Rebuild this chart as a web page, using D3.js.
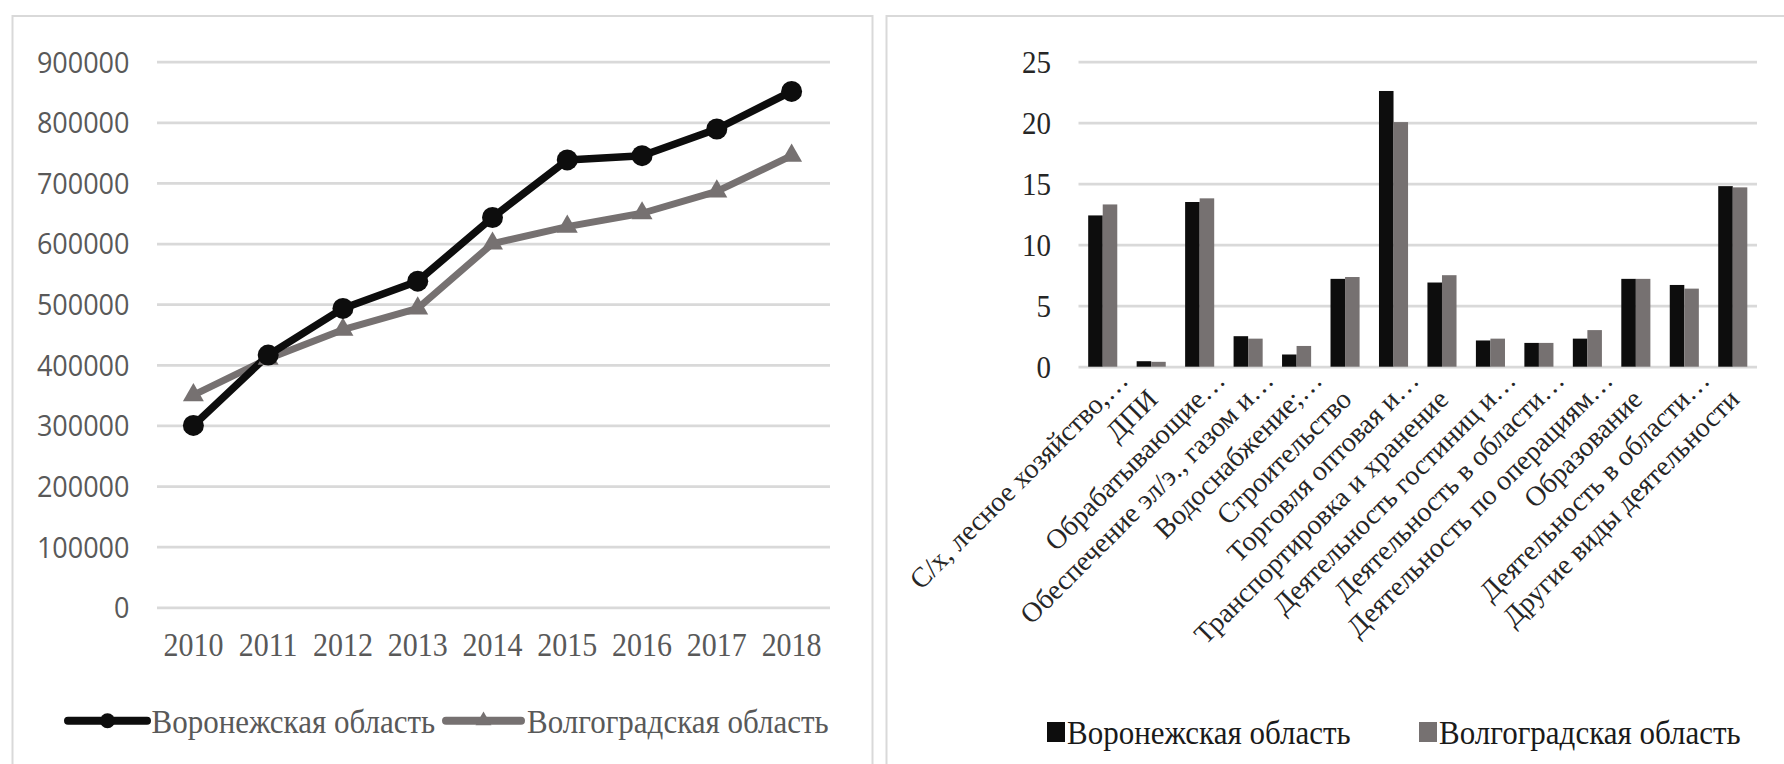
<!DOCTYPE html>
<html>
<head>
<meta charset="utf-8">
<script src="https://cdn.jsdelivr.net/npm/d3@7"></script>
<style>
html,body{margin:0;padding:0;background:#fff;overflow:hidden}
</style>
</head>
<body>
<svg id="c" width="1784" height="764"></svg>
<script>
// ---------- data ----------
const years = ["2010","2011","2012","2013","2014","2015","2016","2017","2018"];
const voronezh = [300000, 416000, 493000, 538000, 643000, 738000, 745000, 789000, 851000];
const volgograd = [350000, 410000, 458000, 493000, 600000, 628000, 650000, 686000, 745000];
const lineTicks = [0,100000,200000,300000,400000,500000,600000,700000,800000,900000];
const seriesNames = ["Воронежская область","Волгоградская область"];

const sectors = [
  "С/х, лесное хозяйство,…",
  "ДПИ",
  "Обрабатывающие…",
  "Обеспечение эл/э., газом и…",
  "Водоснабжение;…",
  "Строительство",
  "Торговля оптовая и…",
  "Транспортировка и хранение",
  "Деятельность гостиниц и…",
  "Деятельность в области…",
  "Деятельность по операциям…",
  "Образование",
  "Деятельность в области…",
  "Другие виды деятельности"
];
const sectorVoronezh = [12.4, 0.45, 13.5, 2.5, 1.0, 7.2, 22.6, 6.9, 2.15, 1.95, 2.3, 7.2, 6.7, 14.8];
const sectorVolgograd = [13.3, 0.4, 13.8, 2.3, 1.7, 7.35, 20.05, 7.5, 2.3, 1.95, 3.0, 7.2, 6.4, 14.7];
const barTicks = [0,5,10,15,20,25];

// ---------- styles ----------
const GRID = "#d9d9d9";
const BLACK = "#0d0d0d";
const GRAY = "#767171";
const SERIF = "'Liberation Serif','Times New Roman',serif";
const SANS = "'Open Sans','Liberation Sans',sans-serif";
const TY = 1.1; // slight vertical stretch of horizontal text, as in the reference

const svg = d3.select("#c");

// panel frames
svg.append("rect").attr("x",12.5).attr("y",16).attr("width",860).attr("height",800)
  .attr("fill","#fff").attr("stroke",GRID).attr("stroke-width",2);
svg.append("rect").attr("x",886.5).attr("y",16).attr("width",960).attr("height",800)
  .attr("fill","#fff").attr("stroke",GRID).attr("stroke-width",2);

function stretchedText(g, x, y, str, size, fill, family) {
  return g.append("text").attr("transform",`translate(${x},${y}) scale(1,${TY})`)
    .attr("font-family",family).attr("font-size",size).attr("fill",fill).text(str);
}

// ================= LEFT: line chart =================
const xL = d3.scaleBand().domain(years).range([156, 829]);
const yL = d3.scaleLinear().domain([0, 900000]).range([607.3, 61.7]);
const cx = y => xL(y) + xL.bandwidth()/2;

const gyL = svg.append("g").attr("transform","translate(157,0)")
  .call(d3.axisLeft(yL).tickValues(lineTicks).tickFormat(d3.format("d"))
    .tickSize(-(830-157)).tickPadding(27.5));
gyL.select(".domain").remove();
gyL.selectAll(".tick line").attr("stroke",GRID).attr("stroke-width",2.7);
gyL.selectAll(".tick text").attr("font-family",SANS).attr("font-size",27)
  .attr("fill","#595959").attr("dy","0.35em").attr("transform",`scale(1,${TY})`);

const gxL = svg.append("g").attr("transform","translate(0,607.3)")
  .call(d3.axisBottom(xL).tickSize(0).tickPadding(0));
gxL.select(".domain").remove();
gxL.selectAll(".tick text").attr("font-family",SERIF).attr("font-size",30)
  .attr("fill","#595959").attr("y",0).attr("dy",null)
  .attr("transform",`translate(0,48.7) scale(1,${TY})`);

const line = d3.line().x((d,i)=>cx(years[i])).y(d=>yL(d));

// Volgograd (gray) drawn first, Voronezh on top
svg.append("path").datum(volgograd).attr("d",line).attr("fill","none")
  .attr("stroke",GRAY).attr("stroke-width",7).attr("stroke-linejoin","round");
svg.append("path").datum(voronezh).attr("d",line).attr("fill","none")
  .attr("stroke",BLACK).attr("stroke-width",7.5).attr("stroke-linejoin","round");

const tri = d3.symbol().type(d3.symbolTriangle).size(190);
svg.append("g").selectAll("path").data(volgograd).join("path")
  .attr("d",tri).attr("fill",GRAY)
  .attr("transform",(d,i)=>`translate(${cx(years[i])},${yL(d)})`);
svg.append("g").selectAll("circle").data(voronezh).join("circle")
  .attr("cx",(d,i)=>cx(years[i])).attr("cy",d=>yL(d)).attr("r",10.5).attr("fill",BLACK);

// legend (left)
const legL = svg.append("g");
legL.append("line").attr("x1",68).attr("x2",147).attr("y1",720.7).attr("y2",720.7)
  .attr("stroke",BLACK).attr("stroke-width",8).attr("stroke-linecap","round");
legL.append("circle").attr("cx",107.5).attr("cy",720.7).attr("r",7.5).attr("fill",BLACK);
stretchedText(legL, 151.5, 733.3, seriesNames[0], 31, "#595959", SERIF);
legL.append("line").attr("x1",446).attr("x2",521).attr("y1",720.7).attr("y2",720.7)
  .attr("stroke",GRAY).attr("stroke-width",8).attr("stroke-linecap","round");
legL.append("path").attr("d",d3.symbol().type(d3.symbolTriangle).size(110))
  .attr("fill",GRAY).attr("transform","translate(483.5,720.7)");
stretchedText(legL, 527, 733.3, seriesNames[1], 31, "#595959", SERIF);

// ================= RIGHT: bar chart =================
const idx = d3.range(sectors.length);
const xR = d3.scaleBand().domain(idx).range([1078.5, 1757]).paddingInner(0.4).paddingOuter(0.2);
const xSub = d3.scaleBand().domain([0,1]).range([0, xR.bandwidth()]);
const yR = d3.scaleLinear().domain([0, 25]).range([366.7, 61.7]);

const gyR = svg.append("g").attr("transform","translate(1078.5,0)")
  .call(d3.axisLeft(yR).tickValues(barTicks).tickSize(-(1757-1078.5)).tickPadding(27.5));
gyR.select(".domain").remove();
gyR.selectAll(".tick line").attr("stroke",GRID).attr("stroke-width",2.7);
gyR.selectAll(".tick text").attr("font-family",SERIF).attr("font-size",29)
  .attr("fill","#262626").attr("dy","0.35em").attr("transform",`scale(1,${TY})`);

const barSeries = [sectorVoronezh, sectorVolgograd];
const barColors = [BLACK, GRAY];
barSeries.forEach((vals, s) => {
  svg.append("g").selectAll("rect").data(vals).join("rect")
    .attr("x",(d,i)=>xR(i)+xSub(s))
    .attr("width",xSub.bandwidth())
    .attr("y",d=>yR(d))
    .attr("height",d=>yR(0)-yR(d))
    .attr("fill",barColors[s]);
});

// category labels, rotated
const labG = svg.append("g");
labG.selectAll("text").data(sectors).join("text")
  .attr("font-family",SERIF).attr("font-size",28).attr("fill","#262626")
  .attr("text-anchor","end")
  .attr("transform",(d,i)=>`translate(${xR(i)+xR.bandwidth()/2+8},401) rotate(-45)`)
  .attr("x",d=> d.endsWith("…") ? 27 : 0)
  .text(d=>d);

// legend (right)
const legR = svg.append("g");
legR.append("rect").attr("x",1047).attr("y",722).attr("width",18).attr("height",20).attr("fill",BLACK);
stretchedText(legR, 1067, 744, seriesNames[0], 31, "#1a1a1a", SERIF);
legR.append("rect").attr("x",1419).attr("y",722).attr("width",18).attr("height",20).attr("fill",GRAY);
stretchedText(legR, 1439, 744, seriesNames[1], 31, "#1a1a1a", SERIF);
</script>
</body>
</html>
